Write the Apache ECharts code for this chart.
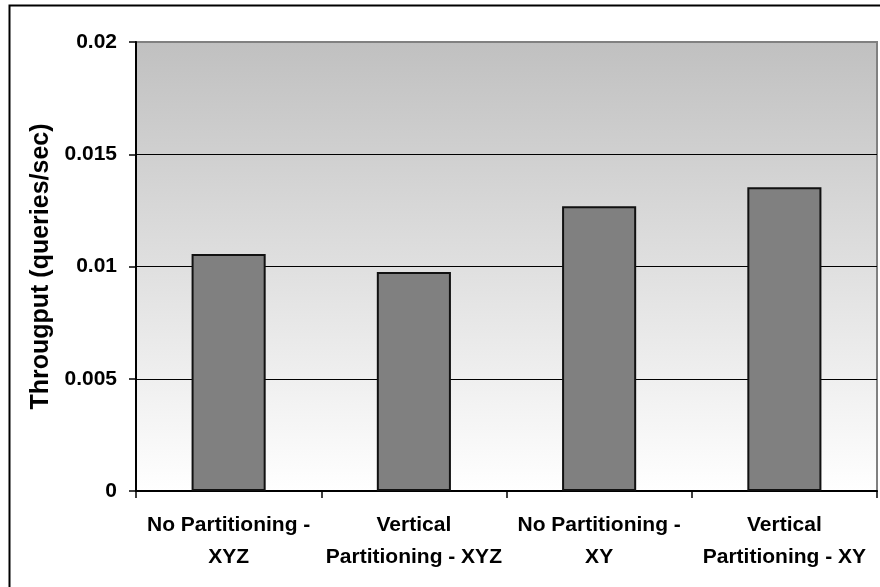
<!DOCTYPE html>
<html>
<head>
<meta charset="utf-8">
<script src="https://cdn.jsdelivr.net/npm/echarts@6/dist/echarts.min.js"></script>
<style>
html,body{margin:0;padding:0;background:#fff;}
#chart{width:880px;height:587px;}
</style>
</head>
<body>
<div id="chart"></div>
<script>
const categories = ['No Partitioning -\nXYZ', 'Vertical\nPartitioning - XYZ', 'No Partitioning -\nXY', 'Vertical\nPartitioning - XY'];
const throughput = [0.01056, 0.00976, 0.01268, 0.01353];
const yAxisName = 'Througput (queries/sec)';

const chart = echarts.init(document.getElementById('chart'), null, {renderer: 'canvas'});
const FONT = '"Liberation Sans", Arial, sans-serif';
chart.setOption({
  animation: false,
  backgroundColor: '#ffffff',
  graphic: [{
    type: 'rect',
    shape: {x: 9.5, y: 5.5, width: 900, height: 620},
    style: {fill: 'none', stroke: '#000', lineWidth: 2},
    z: 100
  }],
  grid: {
    left: 136, right: 3, top: 42, bottom: 96,
    show: true,
    backgroundColor: new echarts.graphic.LinearGradient(0, 0, 0, 1, [
      {offset: 0, color: '#c0c0c0'},
      {offset: 1, color: '#ffffff'}
    ]),
    borderColor: '#808080',
    borderWidth: 2
  },
  xAxis: {
    type: 'category',
    data: categories,
    axisLine: {lineStyle: {color: '#000', width: 2}},
    axisTick: {show: true, length: 7, lineStyle: {color: '#000', width: 1.5}, alignWithLabel: false},
    axisLabel: {
      interval: 0, margin: 18,
      color: '#000', fontFamily: FONT, fontWeight: 'bold', fontSize: 21, lineHeight: 32
    },
    splitLine: {show: false}
  },
  yAxis: {
    type: 'value',
    min: 0, max: 0.02, interval: 0.005,
    name: yAxisName,
    nameLocation: 'middle',
    nameGap: 75,
    nameTextStyle: {color: '#000', fontFamily: FONT, fontWeight: 'bold', fontSize: 25},
    axisLine: {show: true, lineStyle: {color: '#000', width: 2}},
    axisTick: {show: true, length: 7, lineStyle: {color: '#000', width: 1.5}},
    axisLabel: {margin: 19, color: '#000', fontFamily: FONT, fontWeight: 'bold', fontSize: 21},
    splitLine: {show: true, lineStyle: {color: ['#000', '#000', '#000', '#000', '#808080'], width: 1.2}}
  },
  series: [{
    type: 'bar',
    data: throughput,
    barWidth: '40%',
    itemStyle: {color: '#808080', borderColor: '#111', borderWidth: 2}
  }]
});
</script>
</body>
</html>
